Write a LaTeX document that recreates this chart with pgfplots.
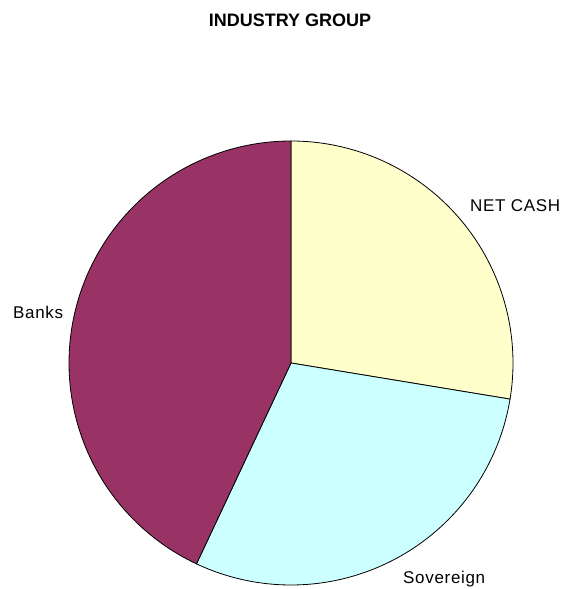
\documentclass[border=0pt]{standalone}
\usepackage{pgfplots}
\pgfplotsset{compat=1.18}
\usepackage{fontspec}
\setmainfont{Liberation Sans}
\newfontfamily\labfont[LetterSpace=4]{Liberation Sans}
\definecolor{banks}{HTML}{993366}
\definecolor{netcash}{HTML}{FFFFCC}
\definecolor{sov}{HTML}{CCFFFF}
% shares in percent
\def\pNet{27.6}
\def\pSov{29.4}
\def\pBanks{43.0}
\pgfmathsetmacro{\aA}{90}
\pgfmathsetmacro{\aB}{90-3.6*\pNet}
\pgfmathsetmacro{\aC}{\aB-3.6*\pSov}
\pgfmathsetmacro{\aD}{\aC-3.6*\pBanks}
\def\cx{291}
\def\cy{226}
\def\rr{222}
\begin{document}
\begin{tikzpicture}
\begin{axis}[
  at={(0,0)}, anchor=origin,
  x=1bp, y=1bp,
  xmin=0, xmax=563, ymin=0, ymax=589,
  hide axis, clip=false, scale only axis,
]
\path (axis cs:0,0) rectangle (axis cs:563,589);
\addplot[fill=netcash, draw=black, line width=0.8bp, domain=\aB:\aA, samples=120, smooth]
  ({\cx+\rr*cos(x)}, {\cy+\rr*sin(x)}) -- (axis cs:\cx,\cy) -- cycle;
\addplot[fill=sov, draw=black, line width=0.8bp, domain=\aC:\aB, samples=120, smooth]
  ({\cx+\rr*cos(x)}, {\cy+\rr*sin(x)}) -- (axis cs:\cx,\cy) -- cycle;
\addplot[fill=banks, draw=black, line width=0.8bp, domain=\aD:\aC, samples=160, smooth]
  ({\cx+\rr*cos(x)}, {\cy+\rr*sin(x)}) -- (axis cs:\cx,\cy) -- cycle;
\node[anchor=base, font=\fontsize{18bp}{20bp}\selectfont\bfseries] at (axis cs:290,562) {INDUSTRY GROUP};
\node[anchor=base west, inner sep=0pt, font=\fontsize{17bp}{20bp}\labfont] at (axis cs:470,377) {NET CASH};
\node[anchor=base west, inner sep=0pt, font=\fontsize{17bp}{20bp}\labfont] at (axis cs:13,270) {Banks};
\node[anchor=base west, inner sep=0pt, font=\fontsize{17bp}{20bp}\labfont] at (axis cs:403,5) {Sovereign};
\end{axis}
\end{tikzpicture}
\end{document}
